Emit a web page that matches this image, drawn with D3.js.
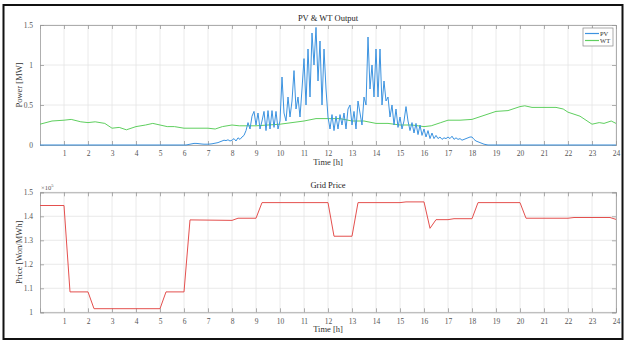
<!DOCTYPE html>
<html>
<head>
<meta charset="utf-8">
<script src="https://cdn.jsdelivr.net/npm/d3@7"></script>
<style>
  body { margin: 0; background: #fff; }
  svg { display: block; font-family: "Liberation Serif", "DejaVu Serif", serif; }
</style>
</head>
<body>
<div id="chart"></div>
<script>
// PV output [MW], 5-minute samples from 06:00 to 19:00 (zero outside)
const pvStart = 6;
const pvValues = [
  0, 0, 0.005, 0.01, 0.015, 0.02, 0.02, 0.018, 0.015, 0.012, 0.01, 0.01,
  0.01, 0.012, 0.015, 0.02, 0.025, 0.03, 0.04, 0.05, 0.06, 0.055, 0.065, 0.05,
  0.06, 0.08, 0.05, 0.09, 0.07, 0.1, 0.12, 0.18, 0.28, 0.2, 0.36, 0.42,
  0.25, 0.4, 0.2, 0.3, 0.42, 0.18, 0.43, 0.2, 0.43, 0.22, 0.42, 0.2,
  0.3, 0.85, 0.4, 0.3, 0.6, 0.35, 0.55, 0.93, 0.45, 0.6, 0.35, 0.7,
  1.08, 0.5, 1.2, 0.6, 1.4, 1.0, 1.47, 0.8, 1.3, 0.5, 1.2, 0.7,
  0.35, 0.2, 0.38, 0.18, 0.36, 0.2, 0.38, 0.25, 0.4, 0.2, 0.45, 0.5,
  0.25, 0.42, 0.2, 0.55, 0.4, 0.25, 0.6, 0.5, 1.35, 0.7, 1.0, 0.6,
  1.2, 0.6, 1.2, 0.5, 0.8, 0.55, 0.6, 0.35, 0.5, 0.25, 0.45, 0.22,
  0.35, 0.2, 0.3, 0.48, 0.3, 0.18, 0.28, 0.15, 0.27, 0.13, 0.25, 0.12,
  0.2, 0.1, 0.18, 0.08, 0.15, 0.08, 0.12, 0.08, 0.1, 0.07, 0.09, 0.08,
  0.1, 0.08, 0.11, 0.07, 0.09, 0.07, 0.08, 0.06, 0.07, 0.08, 0.09, 0.1,
  0.1, 0.07, 0.05, 0.04, 0.03, 0.02, 0.01, 0.005, 0, 0, 0, 0,
  0
];

// WT output [MW]
const wtTime = [0, 0.5, 1, 1.3, 1.7, 2, 2.3, 2.7, 3, 3.3, 3.6, 4, 4.4, 4.7, 5, 5.3, 5.6, 6, 6.5, 7, 7.3, 7.6, 8, 8.3, 8.7, 9, 9.5, 10, 10.5, 11, 11.5, 12, 12.5, 13, 13.5, 14, 14.5, 15, 15.5, 16, 16.3, 16.7, 17, 17.5, 18, 18.5, 19, 19.5, 20, 20.2, 20.5, 21, 21.5, 21.8, 22, 22.5, 23, 23.3, 23.5, 23.8, 24];
const wtValues = [0.26, 0.3, 0.31, 0.32, 0.29, 0.28, 0.29, 0.27, 0.21, 0.22, 0.19, 0.23, 0.25, 0.27, 0.25, 0.23, 0.23, 0.21, 0.21, 0.21, 0.2, 0.23, 0.25, 0.24, 0.24, 0.24, 0.25, 0.26, 0.28, 0.3, 0.33, 0.33, 0.33, 0.3, 0.3, 0.27, 0.27, 0.25, 0.25, 0.23, 0.24, 0.28, 0.31, 0.31, 0.32, 0.37, 0.42, 0.43, 0.48, 0.49, 0.47, 0.47, 0.47, 0.45, 0.41, 0.36, 0.26, 0.28, 0.27, 0.3, 0.27];

// Grid price [x10^5 Won/MWh]
const priceTime = [0, 1, 1.25, 2, 2.25, 5, 5.25, 6, 6.25, 8, 8.25, 9, 9.25, 12, 12.25, 13, 13.25, 15, 15.25, 16, 16.25, 16.5, 17, 17.25, 18, 18.25, 20, 20.25, 22, 22.25, 23.75, 24];
const priceValues = [1.445, 1.445, 1.085, 1.085, 1.015, 1.015, 1.085, 1.085, 1.385, 1.383, 1.392, 1.392, 1.457, 1.457, 1.317, 1.317, 1.457, 1.457, 1.46, 1.46, 1.35, 1.386, 1.386, 1.39, 1.39, 1.457, 1.457, 1.392, 1.392, 1.395, 1.395, 1.387];

const hourTicks = d3.range(1, 25);
const powerTicks = [0, 0.5, 1, 1.5];
const priceTicks = [1, 1.1, 1.2, 1.3, 1.4, 1.5];

const pvColor = "#3c93e0", wtColor = "#5fcf5f", priceColor = "#e4504e";

const width = 627, height = 342;
const svg = d3.select("#chart").append("svg").attr("width", width).attr("height", height);

// outer frame
svg.append("rect").attr("x", 3.5).attr("y", 5).attr("width", 619).attr("height", 334)
  .attr("fill", "none").attr("stroke", "#111").attr("stroke-width", 2);

const x = d3.scaleLinear().domain([0, 24]).range([40, 616]);

function panel({ top, bottom, yDomain, yTicks, title, ylabel }) {
  const y = d3.scaleLinear().domain(yDomain).range([bottom, top]);
  const g = svg.append("g");

  // grid
  g.append("g").selectAll("line").data(hourTicks).join("line")
    .attr("x1", d => x(d)).attr("x2", d => x(d)).attr("y1", top).attr("y2", bottom)
    .attr("stroke", "#e4e4e4").attr("stroke-width", 0.8);
  g.append("g").selectAll("line").data(yTicks).join("line")
    .attr("x1", x(0)).attr("x2", x(24)).attr("y1", d => y(d)).attr("y2", d => y(d))
    .attr("stroke", "#e4e4e4").attr("stroke-width", 0.8);

  // axes (ticks inside, MATLAB style)
  const xb = g.append("g").attr("transform", `translate(0,${bottom})`)
    .call(d3.axisBottom(x).tickValues(hourTicks).tickSize(-4).tickPadding(6).tickFormat(d3.format("d")));
  const xt = g.append("g").attr("transform", `translate(0,${top})`)
    .call(d3.axisTop(x).tickValues(hourTicks).tickSize(-4).tickFormat(""));
  const yl = g.append("g").attr("transform", `translate(${x(0)},0)`)
    .call(d3.axisLeft(y).tickValues(yTicks).tickSize(-4).tickPadding(7).tickFormat(d3.format("")));
  const yr = g.append("g").attr("transform", `translate(${x(24)},0)`)
    .call(d3.axisRight(y).tickValues(yTicks).tickSize(-4).tickFormat(""));
  [xb, xt, yl, yr].forEach(a => {
    a.select(".domain").attr("stroke", "#9a9a9a").attr("stroke-width", 0.8);
    a.selectAll(".tick line").attr("stroke", "#9a9a9a").attr("stroke-width", 0.8);
    a.selectAll("text").attr("fill", "#555").attr("font-size", 7.5)
      .attr("font-family", "Liberation Serif, serif");
  });

  g.append("text").attr("x", 328).attr("y", top - 4).attr("text-anchor", "middle")
    .attr("font-size", 8.5).attr("fill", "#222").text(title);
  g.append("text").attr("x", 328).attr("y", bottom + 20).attr("text-anchor", "middle")
    .attr("font-size", 8.5).attr("fill", "#333").text("Time [h]");
  g.append("text").attr("transform", `translate(22,${(top + bottom) / 2}) rotate(-90)`)
    .attr("text-anchor", "middle").attr("font-size", 8.5).attr("fill", "#333").text(ylabel);
  return { g, y };
}

// ---- PV & WT panel
const p1 = panel({ top: 25, bottom: 145, yDomain: [0, 1.5], yTicks: powerTicks,
  title: "PV & WT Output", ylabel: "Power [MW]" });

const pvData = [{ t: 0, v: 0 }]
  .concat(pvValues.map((v, i) => ({ t: pvStart + i / 12, v })))
  .concat([{ t: 24, v: 0 }]);
const wtData = wtTime.map((t, i) => ({ t, v: wtValues[i] }));

const line1 = d3.line().x(d => x(d.t)).y(d => p1.y(d.v));
p1.g.append("path").datum(wtData).attr("d", line1)
  .attr("fill", "none").attr("stroke", wtColor).attr("stroke-width", 1);
p1.g.append("path").datum(pvData).attr("d", line1)
  .attr("fill", "none").attr("stroke", pvColor).attr("stroke-width", 1);

// legend
const lg = p1.g.append("g").attr("transform", "translate(583,28)");
lg.append("rect").attr("width", 30).attr("height", 18)
  .attr("fill", "#fff").attr("stroke", "#888").attr("stroke-width", 0.7);
[["PV", pvColor], ["WT", wtColor]].forEach(([name, c], i) => {
  lg.append("line").attr("x1", 2).attr("x2", 16).attr("y1", 5.5 + i * 7).attr("y2", 5.5 + i * 7)
    .attr("stroke", c).attr("stroke-width", 1.2);
  lg.append("text").attr("x", 17).attr("y", 8 + i * 7).attr("font-size", 6.5)
    .attr("fill", "#333").text(name);
});

// ---- Grid price panel
const p2 = panel({ top: 192.3, bottom: 312.3, yDomain: [1, 1.5], yTicks: priceTicks,
  title: "Grid Price", ylabel: "Price [Won/MWh]" });

const priceData = priceTime.map((t, i) => ({ t, v: priceValues[i] }));
p2.g.append("path").datum(priceData)
  .attr("d", d3.line().x(d => x(d.t)).y(d => p2.y(d.v)))
  .attr("fill", "none").attr("stroke", priceColor).attr("stroke-width", 1);

const ex = p2.g.append("text").attr("x", 41).attr("y", 190).attr("font-size", 6.5).attr("fill", "#555");
ex.append("tspan").text("\u00d710");
ex.append("tspan").attr("dy", -3).attr("font-size", 4.5).text("5");
</script>
</body>
</html>
